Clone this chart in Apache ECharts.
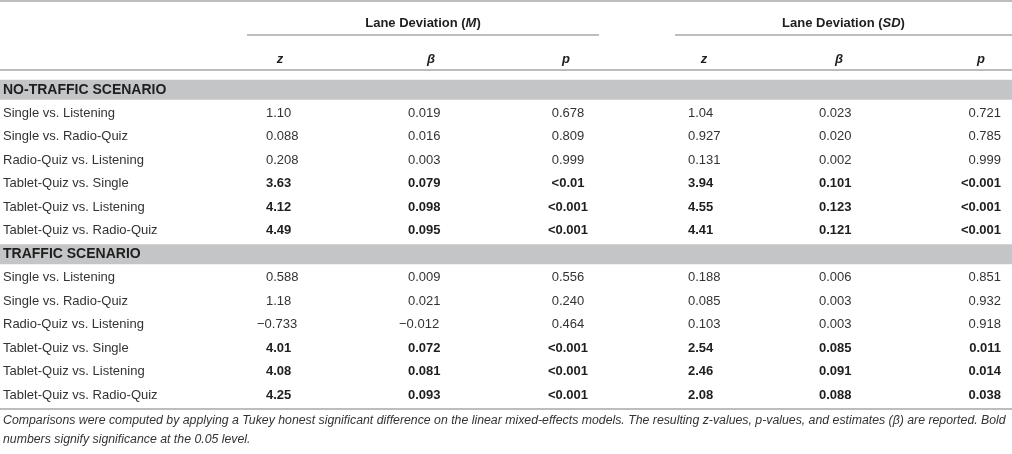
<!DOCTYPE html>
<html>
<head>
<meta charset="utf-8">
<title>Lane deviation comparisons</title>
<script src="https://cdn.jsdelivr.net/npm/echarts@6/dist/echarts.min.js"></script>
<style>
  html, body { margin: 0; padding: 0; background: #fff; }
  #chart { width: 1012px; height: 454px; }
</style>
</head>
<body>
<div id="chart"></div>
<script>
// table content
const comparisons = [
  'Single vs. Listening',
  'Single vs. Radio-Quiz',
  'Radio-Quiz vs. Listening',
  'Tablet-Quiz vs. Single',
  'Tablet-Quiz vs. Listening',
  'Tablet-Quiz vs. Radio-Quiz',
];
const significantRows = [3, 4, 5];

const groupTitles = ['M', 'SD'];
const statLabels = ['z', 'β', 'p'];

// no-traffic scenario
const noTrafficMeanZ = ['1.10', '0.088', '0.208', '3.63', '4.12', '4.49'];
const noTrafficMeanBeta = ['0.019', '0.016', '0.003', '0.079', '0.098', '0.095'];
const noTrafficMeanP = ['0.678', '0.809', '0.999', '<0.01', '<0.001', '<0.001'];
const noTrafficSdZ = ['1.04', '0.927', '0.131', '3.94', '4.55', '4.41'];
const noTrafficSdBeta = ['0.023', '0.020', '0.002', '0.101', '0.123', '0.121'];
const noTrafficSdP = ['0.721', '0.785', '0.999', '<0.001', '<0.001', '<0.001'];

// traffic scenario
const trafficMeanZ = ['0.588', '1.18', '−0.733', '4.01', '4.08', '4.25'];
const trafficMeanBeta = ['0.009', '0.021', '−0.012', '0.072', '0.081', '0.093'];
const trafficMeanP = ['0.556', '0.240', '0.464', '<0.001', '<0.001', '<0.001'];
const trafficSdZ = ['0.188', '0.085', '0.103', '2.54', '2.46', '2.08'];
const trafficSdBeta = ['0.006', '0.003', '0.003', '0.085', '0.091', '0.088'];
const trafficSdP = ['0.851', '0.932', '0.918', '0.011', '0.014', '0.038'];

const footnote = [
  'Comparisons were computed by applying a Tukey honest significant difference on the linear mixed-effects models. The resulting z-values, p-values, and estimates (β) are reported. Bold',
  'numbers signify significance at the 0.05 level.',
];

const sections = [
  { title: 'NO-TRAFFIC SCENARIO', columns: [noTrafficMeanZ, noTrafficMeanBeta, noTrafficMeanP, noTrafficSdZ, noTrafficSdBeta, noTrafficSdP] },
  { title: 'TRAFFIC SCENARIO', columns: [trafficMeanZ, trafficMeanBeta, trafficMeanP, trafficSdZ, trafficSdBeta, trafficSdP] },
];

// layout (x in page pixels along the hidden value axis)
const W = 1012;
const FONT = '"Liberation Sans", Arial, Helvetica, sans-serif';
const TEXT = '#333';
const BOLD_TEXT = '#1e1e1e';
const RULE = '#bdbdbd';
const labelX = 3;
const colLayout = [
  { x: 266, align: 'left', head: 280 },
  { x: 408, align: 'left', head: 431 },
  { x: 568, align: 'center', head: 566 },
  { x: 688, align: 'left', head: 704 },
  { x: 819, align: 'left', head: 839 },
  { x: 1001, align: 'right', head: 981 },
];
const groupSpans = [[247, 599], [675, W]];

// build rows
const rowKeys = [];
const bandValues = [];
const cells = [];
sections.forEach((sec, s) => {
  rowKeys.push('band-' + s);
  bandValues.push(W);
  cells.push({ value: [labelX, rowKeys.length - 1], text: sec.title, bold: true, size: 14, align: 'left' });
  comparisons.forEach((name, i) => {
    rowKeys.push('row-' + s + '-' + i);
    bandValues.push('-');
    const r = rowKeys.length - 1;
    const bold = significantRows.indexOf(i) >= 0;
    cells.push({ value: [labelX, r], text: name, bold: false, align: 'left' });
    sec.columns.forEach((col, c) => {
      cells.push({ value: [colLayout[c].x, r], text: col[i], bold, align: colLayout[c].align });
    });
  });
});

const graphics = [];
const hline = (y, x1, x2) => graphics.push({
  type: 'line', silent: true,
  shape: { x1, y1: y, x2, y2: y },
  style: { stroke: RULE, lineWidth: 2 },
});
hline(1, 0, W);
groupSpans.forEach((span, g) => {
  hline(35, span[0], span[1]);
  graphics.push({
    type: 'text', x: (span[0] + span[1]) / 2, y: 23,
    style: {
      text: '{b|Lane Deviation (}{i|' + groupTitles[g] + '}{b|)}',
      align: 'center', verticalAlign: 'middle',
      rich: {
        b: { fontFamily: FONT, fontSize: 13, fontWeight: 'bold', fill: BOLD_TEXT },
        i: { fontFamily: FONT, fontSize: 13, fontWeight: 'bold', fontStyle: 'italic', fill: BOLD_TEXT },
      },
    },
  });
});
colLayout.forEach((col, c) => {
  graphics.push({
    type: 'text', x: col.head, y: 59,
    style: {
      text: statLabels[c % 3], align: 'center', verticalAlign: 'middle',
      fontFamily: FONT, fontSize: 13, fontWeight: 'bold', fontStyle: 'italic', fill: BOLD_TEXT,
    },
  });
});
hline(70, 0, W);
hline(409, 0, W);
footnote.forEach((line, k) => {
  graphics.push({
    type: 'text', x: 3, y: 421 + k * 19,
    style: {
      text: line, align: 'left', verticalAlign: 'middle',
      fontFamily: FONT, fontSize: 12.3, fontStyle: 'italic', fill: TEXT,
    },
  });
});

const chart = echarts.init(document.getElementById('chart'));
chart.setOption({
  animation: false,
  grid: { left: 0, right: 0, top: 78, height: 23.5 * rowKeys.length },
  xAxis: { type: 'value', min: 0, max: W, show: false },
  yAxis: { type: 'category', data: rowKeys, inverse: true, show: false },
  graphic: graphics,
  series: [
    {
      type: 'bar',
      data: bandValues,
      barWidth: 20,
      silent: true,
      z: 1,
      itemStyle: { color: '#c4c5c7' },
    },
    {
      type: 'custom',
      silent: true,
      z: 5,
      clip: false,
      data: cells.map(c => c.value),
      renderItem: (params, api) => {
        const cell = cells[params.dataIndex];
        const pt = api.coord([api.value(0), api.value(1)]);
        // decimal alignment: let a leading minus hang to the left
        const dx = cell.align === 'left' && cell.text.charAt(0) === '−' ? -9 : 0;
        return {
          type: 'text',
          x: pt[0] + dx,
          y: pt[1],
          style: {
            text: cell.text,
            align: cell.align,
            verticalAlign: 'middle',
            fontFamily: FONT,
            fontSize: cell.size || 13,
            fontWeight: cell.bold ? 'bold' : 'normal',
            fill: cell.bold ? BOLD_TEXT : TEXT,
          },
        };
      },
    },
  ],
});
</script>
</body>
</html>
